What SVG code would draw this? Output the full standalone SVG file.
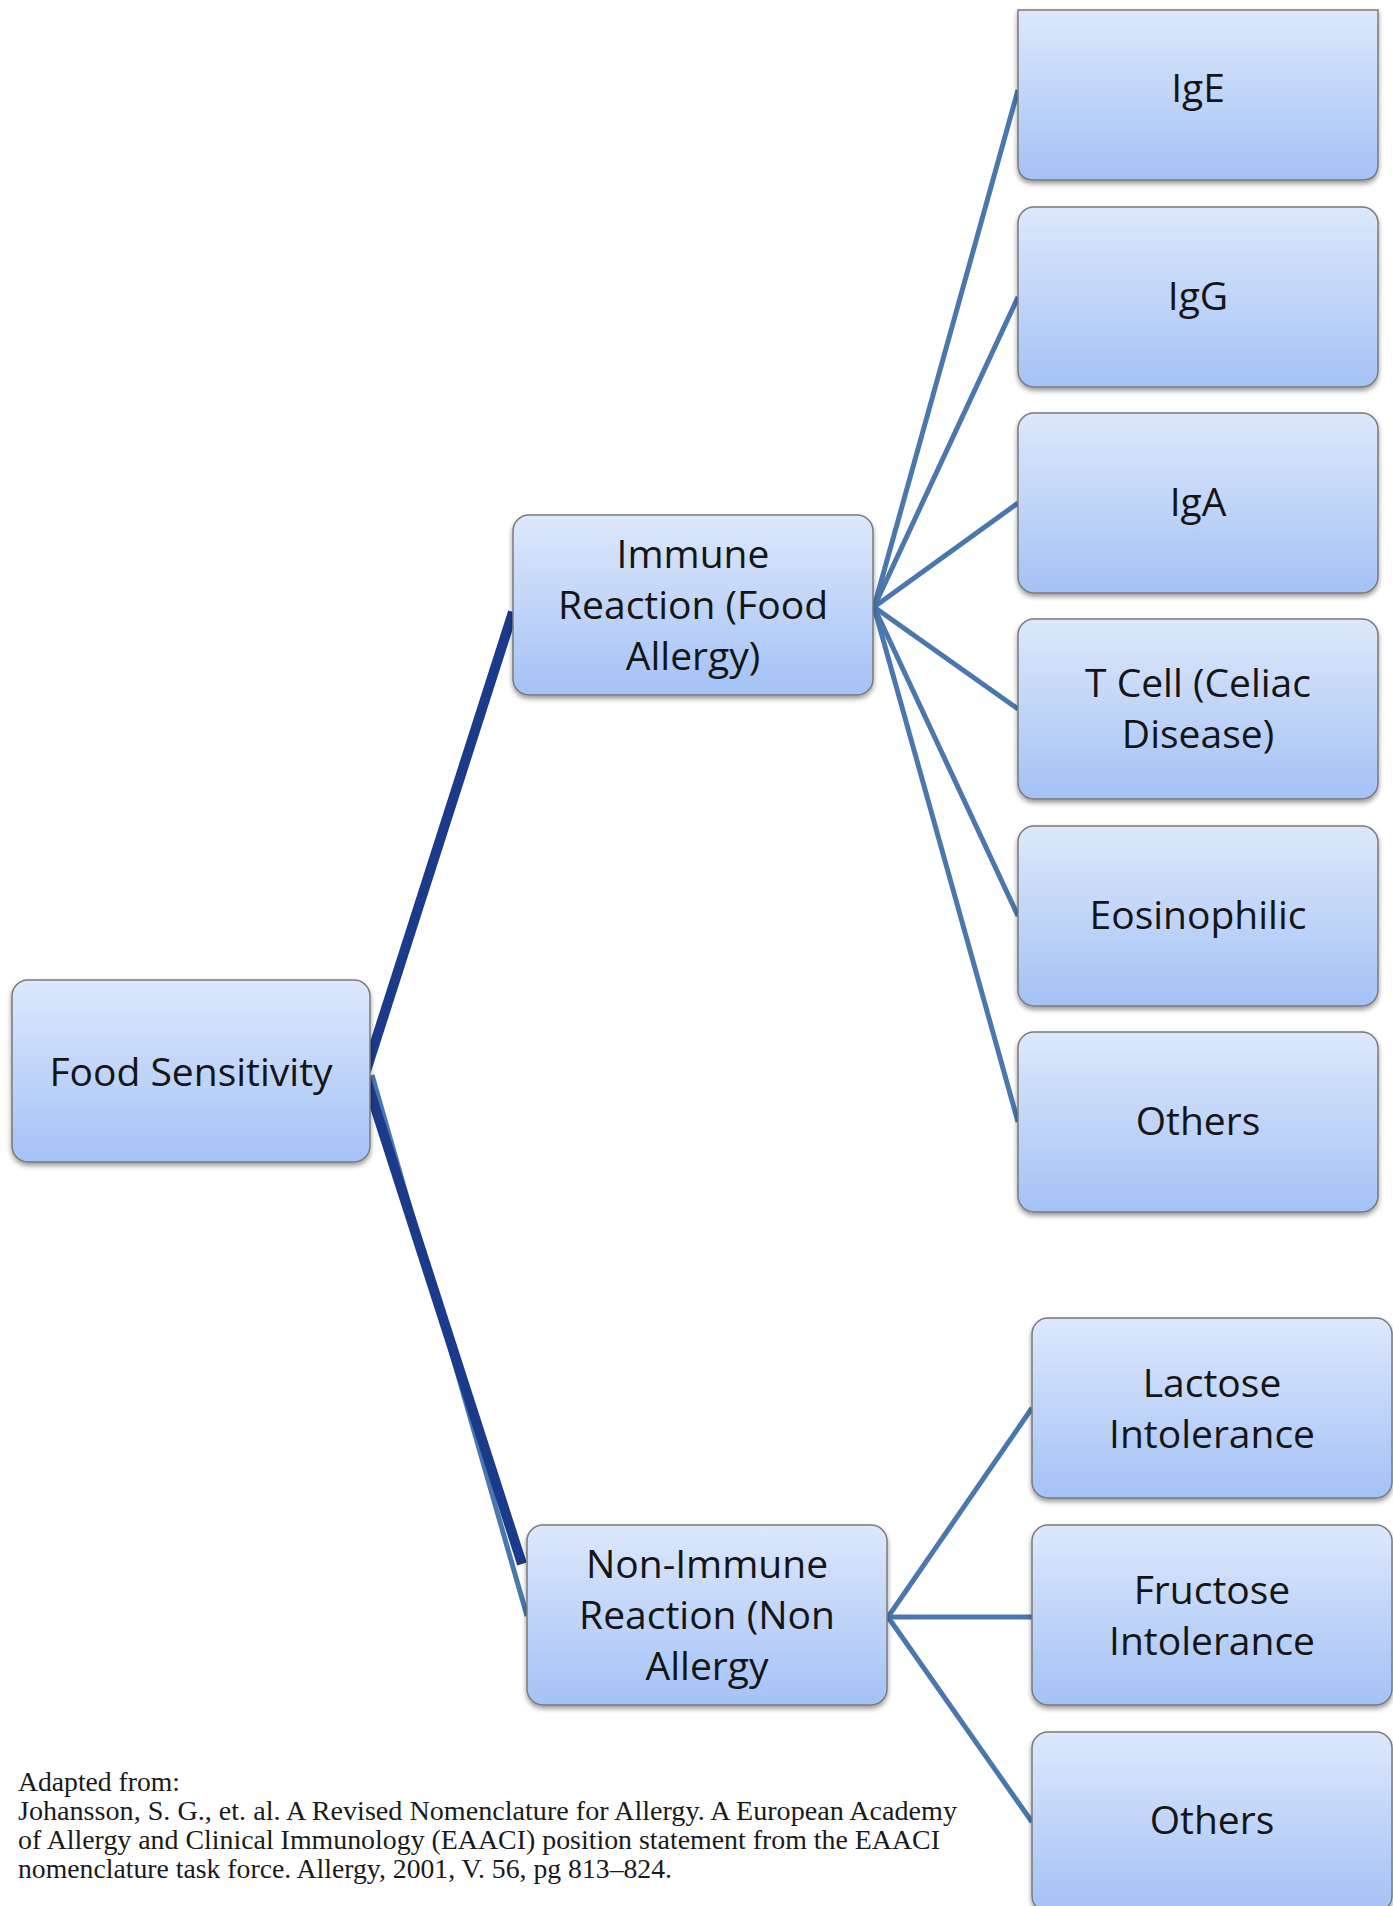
<svg xmlns="http://www.w3.org/2000/svg" width="1393" height="1906" viewBox="0 0 1393 1906">
<defs>
  <linearGradient id="g" x1="0" y1="0" x2="0" y2="1">
    <stop offset="0" stop-color="#dde8fb"/>
    <stop offset="1" stop-color="#a4c2f6"/>
  </linearGradient>
  <filter id="sh" x="-5%" y="-5%" width="110%" height="120%">
    <feDropShadow dx="0" dy="3" stdDeviation="2.5" flood-color="#000" flood-opacity="0.4"/>
  </filter>
  <style>
    .bx { fill: url(#g); stroke: #7a7a7a; stroke-width: 1.5; filter: url(#sh); }
    .lbl { font-family: "Open Sans", "Noto Sans", sans-serif; font-size: 39px; fill: #151515; text-anchor: middle; }
    .c { stroke: #4a78ad; stroke-width: 5; fill: none; }
    .d { stroke: #1b3a8a; stroke-width: 10; fill: none; }
    .ref { font-family: "Liberation Serif", "Times New Roman", serif; font-size: 27px; fill: #1a1a1a; }
  </style>
</defs>
<rect width="1393" height="1906" fill="#ffffff"/>

<g id="connectors">
  <line class="c" x1="874" y1="607" x2="1018" y2="90"/>
  <line class="c" x1="874" y1="607" x2="1018" y2="297"/>
  <line class="c" x1="874" y1="607" x2="1018" y2="503"/>
  <line class="c" x1="874" y1="607" x2="1018" y2="709"/>
  <line class="c" x1="874" y1="607" x2="1018" y2="916"/>
  <line class="c" x1="874" y1="607" x2="1018" y2="1122"/>
  <line class="c" x1="888" y1="1617" x2="1032" y2="1408"/>
  <line class="c" x1="888" y1="1617" x2="1032" y2="1617"/>
  <line class="c" x1="888" y1="1617" x2="1032" y2="1822"/>
  <line class="c" x1="372" y1="1075" x2="527" y2="1616"/>
  <line class="d" x1="366" y1="1071" x2="513" y2="612"/>
  <line class="d" x1="366" y1="1079" x2="522" y2="1564"/>
</g>

<g id="food-sensitivity">
  <rect class="bx" x="12" y="980" width="358" height="182" rx="16"/>
  <text class="lbl" x="191" y="1086">Food Sensitivity</text>
</g>

<g id="immune-reaction">
  <rect class="bx" x="513" y="515" width="360" height="180" rx="16"/>
  <text class="lbl" x="693" y="568">Immune</text>
  <text class="lbl" x="693" y="619">Reaction (Food</text>
  <text class="lbl" x="693" y="670">Allergy)</text>
</g>

<g id="non-immune-reaction">
  <rect class="bx" x="527" y="1525" width="360" height="180" rx="16"/>
  <text class="lbl" x="707" y="1578">Non-Immune</text>
  <text class="lbl" x="707" y="1629">Reaction (Non</text>
  <text class="lbl" x="707" y="1680">Allergy</text>
</g>

<g id="ige">
  <path class="bx" d="M1018,10 H1378 V164 Q1378,180 1362,180 H1034 Q1018,180 1018,164 Z"/>
  <text class="lbl" x="1198" y="102">IgE</text>
</g>

<g id="igg">
  <rect class="bx" x="1018" y="207" width="360" height="180" rx="16"/>
  <text class="lbl" x="1198" y="310">IgG</text>
</g>

<g id="iga">
  <rect class="bx" x="1018" y="413" width="360" height="180" rx="16"/>
  <text class="lbl" x="1198" y="516">IgA</text>
</g>

<g id="t-cell">
  <rect class="bx" x="1018" y="619" width="360" height="180" rx="16"/>
  <text class="lbl" x="1198" y="697">T Cell (Celiac</text>
  <text class="lbl" x="1198" y="748">Disease)</text>
</g>

<g id="eosinophilic">
  <rect class="bx" x="1018" y="826" width="360" height="180" rx="16"/>
  <text class="lbl" x="1198" y="929">Eosinophilic</text>
</g>

<g id="others-immune">
  <rect class="bx" x="1018" y="1032" width="360" height="180" rx="16"/>
  <text class="lbl" x="1198" y="1135">Others</text>
</g>

<g id="lactose">
  <rect class="bx" x="1032" y="1318" width="360" height="180" rx="16"/>
  <text class="lbl" x="1212" y="1397">Lactose</text>
  <text class="lbl" x="1212" y="1448">Intolerance</text>
</g>

<g id="fructose">
  <rect class="bx" x="1032" y="1525" width="360" height="180" rx="16"/>
  <text class="lbl" x="1212" y="1604">Fructose</text>
  <text class="lbl" x="1212" y="1655">Intolerance</text>
</g>

<g id="others-non-immune">
  <rect class="bx" x="1032" y="1732" width="360" height="180" rx="16"/>
  <text class="lbl" x="1212" y="1834">Others</text>
</g>

<g id="reference">
  <text class="ref" x="18" y="1791" textLength="162" lengthAdjust="spacingAndGlyphs">Adapted from:</text>
  <text class="ref" x="18" y="1820" textLength="939" lengthAdjust="spacingAndGlyphs">Johansson, S. G., et. al. A Revised Nomenclature for Allergy.  A European Academy</text>
  <text class="ref" x="18" y="1849" textLength="922" lengthAdjust="spacingAndGlyphs">of Allergy and Clinical Immunology (EAACI) position statement from the EAACI</text>
  <text class="ref" x="18" y="1878" textLength="654" lengthAdjust="spacingAndGlyphs">nomenclature task force. Allergy, 2001, V. 56, pg 813–824.</text>
</g>
</svg>
